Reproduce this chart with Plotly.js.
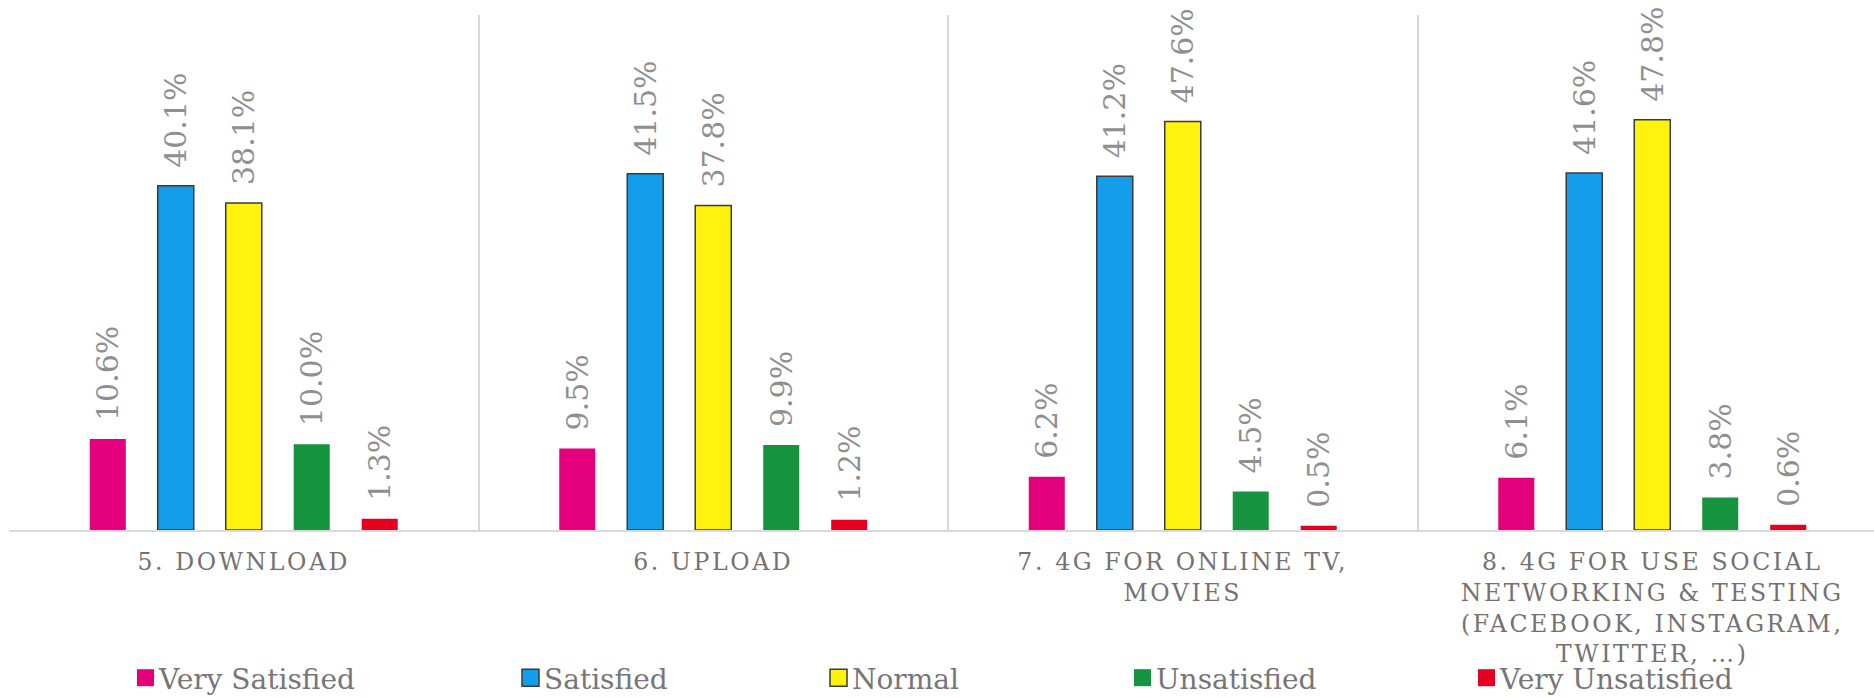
<!DOCTYPE html>
<html>
<head>
<meta charset="utf-8">
<script src="https://cdn.plot.ly/plotly-3.0.1.min.js"></script>
<style>
  html, body { margin: 0; padding: 0; background: #fff; overflow: hidden; }
  #chart { width: 1874px; height: 697px; }
  .xtick text { letter-spacing: 2.6px; }
</style>
</head>
<body>
<div id="chart"></div>
<script>
// ---- data ----
const categories = [
  "5. DOWNLOAD",
  "6. UPLOAD",
  "7. 4G FOR ONLINE TV,<br>MOVIES",
  "8. 4G FOR USE SOCIAL<br>NETWORKING & TESTING<br>(FACEBOOK, INSTAGRAM,<br>TWITTER, …)"
];
const seriesNames = ["Very Satisfied", "Satisfied", "Normal", "Unsatisfied", "Very Unsatisfied"];
const verySatisfied   = [10.6, 9.5, 6.2, 6.1];
const satisfied       = [40.1, 41.5, 41.2, 41.6];
const normal          = [38.1, 37.8, 47.6, 47.8];
const unsatisfied     = [10.0, 9.9, 4.5, 3.8];
const veryUnsatisfied = [1.3, 1.2, 0.5, 0.6];

// ---- styling ----
const seriesValues = [verySatisfied, satisfied, normal, unsatisfied, veryUnsatisfied];
const colors = ["#E4007C", "#149DEB", "#FFF20C", "#16933E", "#E60020"];
const outlines = [0, 1.5, 1.5, 0, 0];
const legendIds = ["legend", "legend2", "legend3", "legend4", "legend5"];
const legendTextLeft = [159, 544, 852, 1156, 1500];

const W = 1874, H = 697;
const ml = 9, mr = 0, mt = 15, mb = 167;
const paperW = W - ml - mr;

const traces = seriesValues.map((vals, i) => ({
  type: "bar",
  name: seriesNames[i],
  x: categories,
  y: vals,
  marker: { color: colors[i], line: { color: "#3b3b3b", width: outlines[i] } },
  text: vals.map(v => "\u2002" + v.toFixed(1) + "%"),
  texttemplate: "%{text}",
  textposition: "outside",
  textangle: -90,
  constraintext: "none",
  cliponaxis: false,
  textfont: { family: "DejaVu Serif", size: 30, color: "#8f8f8f" },
  legend: legendIds[i],
  hoverinfo: "skip"
}));

const layout = {
  width: W, height: H,
  margin: { l: ml, r: mr, t: mt, b: mb },
  paper_bgcolor: "#ffffff",
  plot_bgcolor: "#ffffff",
  barmode: "group",
  bargap: 0.276,
  bargroupgap: 0.47,
  xaxis: {
    type: "category",
    range: [-0.5, -0.5 + paperW / 469.5],
    tickson: "boundaries",
    showgrid: true,
    gridcolor: "#d9d9d9",
    gridwidth: 1.5,
    showline: true,
    linecolor: "#d9d9d9",
    linewidth: 2,
    ticks: "",
    tickangle: 0,
    ticklabelstandoff: 10,
    automargin: false,
    tickfont: { family: "DejaVu Serif", size: 23.6, color: "#767171" },
    fixedrange: true
  },
  yaxis: {
    range: [0, 60],
    showgrid: false,
    zeroline: false,
    showline: false,
    showticklabels: false,
    ticks: "",
    automargin: false,
    fixedrange: true
  },
  showlegend: true
};

legendIds.forEach((id, i) => {
  layout[id] = {
    orientation: "h",
    xref: "container",
    yref: "container",
    x: (legendTextLeft[i] - 40) / W,
    xanchor: "left",
    y: (H - 678) / H,
    yanchor: "middle",
    bgcolor: "rgba(0,0,0,0)",
    borderwidth: 0,
    font: { family: "DejaVu Serif", size: 28, color: "#767676" }
  };
});

function enlargeSwatches(gd) {
  gd.querySelectorAll(".legendpoints path").forEach(p => {
    p.setAttribute("d", "M8.5,8.5H-8.5V-8.5H8.5Z");
    const t = p.getAttribute("transform") || "";
    p.setAttribute("transform", "translate(6.5,0) " + t);
  });
}

Plotly.newPlot("chart", traces, layout, { displayModeBar: false, responsive: false })
  .then(gd => enlargeSwatches(gd));
</script>
</body>
</html>
